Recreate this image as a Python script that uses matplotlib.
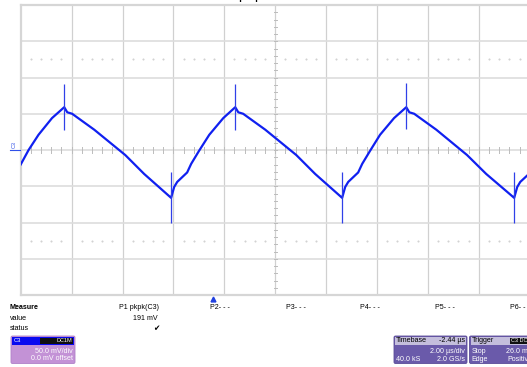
import matplotlib.pyplot as plt
from matplotlib.patches import Rectangle, FancyBboxPatch
import numpy as np

# C3 capture, 2 us/div, 50 mV/div
trace_t = [-10.0, -9.69, -9.30, -8.77, -8.29, -8.17, -7.98, -7.11, -5.89, -5.15,
           -4.09, -3.97, -3.85, -3.46, -3.30, -2.99, -2.59, -2.04, -1.57, -1.45,
           -1.26, -0.39, 0.83, 1.57, 2.63, 2.75, 2.87, 3.26, 3.42, 3.73,
           4.12, 4.67, 5.15, 5.27, 5.46, 6.33, 7.54, 8.29, 9.39, 9.51,
           9.63, 10.0]
trace_mv = [-20, 0, 21, 44, 59, 52, 50, 28, -7, -33,
            -66, -51, -44, -31, -19, -1, 21, 44, 59, 52,
            50, 28, -7, -33, -66, -51, -44, -31, -19, -1,
            21, 44, 59, 52, 50, 28, -7, -33, -66, -51,
            -44, -32]

# switching spikes at the corners
spike_t = [-8.29, -4.09, -1.57, 2.63, 5.15, 9.39]
spike_hi = [91, -30, 91, -30, 92, -30]
spike_lo = [28, -100, 28, -100, 29, -100]

trig_t = -2.44
meas_labels = ["P2- - -", "P3- - -", "P4- - -", "P5- - -", "P6- - -"]
meas_x = [210, 286, 360, 435, 510]

W, H = 527, 367
fig = plt.figure(figsize=(W / 100, H / 100), dpi=100)
plt.rcParams['font.family'] = ['Liberation Sans', 'DejaVu Sans']

ax = fig.add_axes([20.7 / W, 1 - 295 / H, 509 / W, 290 / H])
ax.set_xlim(-10, 10)
ax.set_ylim(-200, 200)
ax.set_xticks([])
ax.set_yticks([])
for s in ax.spines.values():
    s.set_color('#d6d6d6')
    s.set_linewidth(1.6)

for x in np.arange(-8, 9, 2):
    ax.axvline(x, color='#d0d0d0', lw=0.9, zorder=1)
for y in np.arange(-150, 151, 50):
    ax.axhline(y, color='#dddddd', lw=1.2, zorder=1)

# center crosshair ticks
for x in np.arange(-10, 10.01, 0.4):
    ax.plot([x, x], [-3.5, 3.5], color='#bcbcbc', lw=0.7, zorder=1)
for y in np.arange(-200, 200.1, 10):
    ax.plot([-0.06, 0.06], [y, y], color='#bcbcbc', lw=0.7, zorder=1)

# dotted level lines
dots = [x for x in np.arange(-10, 10.01, 0.4) if abs(x / 2 - round(x / 2)) > 0.05]
for y in (125, -125):
    ax.plot(dots, [y] * len(dots), ls='none', marker='s', ms=0.5,
            color='#d2d2d2', zorder=1)

ax.plot(trace_t, trace_mv, color='#1020f0', lw=1.6, zorder=3,
        solid_joinstyle='round')
ax.vlines(spike_t, spike_lo, spike_hi, color='#3040e8', lw=0.9, zorder=3)

# overlay in pixel units for the readout panels
ov = fig.add_axes([0, 0, 1, 1])
ov.set_xlim(0, W)
ov.set_ylim(H, 0)
ov.axis('off')

# channel marker and trigger arrow
ov.plot([10, 20], [150, 150], color='#3050e8', lw=0.8)
ov.text(14, 145, 'C3', rotation=90, fontsize=4, color='#3050e8',
        ha='center', va='center')
trig_px = 20.7 + (trig_t + 10) / 20 * 509
ov.plot(trig_px, 298.5, marker='^', ms=3.5, color='#2040e0')

ov.text(242, -1.5, 'p', fontsize=10, ha='center', va='baseline')
ov.text(258, -1.5, 'p', fontsize=10, ha='center', va='baseline')

fs = 5.1
ov.text(10, 307.5, 'Measure', fontsize=fs, fontweight='bold', va='center')
ov.text(10, 318.5, 'value', fontsize=fs, va='center')
ov.text(10, 329, 'status', fontsize=fs, va='center')
ov.text(119, 307.5, 'P1 pkpk(C3)', fontsize=fs, va='center')
ov.text(158, 318.5, '191 mV', fontsize=fs, va='center', ha='right')
ov.text(156, 329, '\u2714', fontsize=5.5, va='center', ha='center',
        family=['DejaVu Sans'])
for lab, x in zip(meas_labels, meas_x):
    ov.text(x, 307.5, lab, fontsize=fs, va='center')

# C3 channel box
ov.add_patch(FancyBboxPatch((11, 336), 64, 27.5, boxstyle='round,pad=0,rounding_size=1.5',
                            fc='#c392d6', ec='#b080c8', lw=0.6))
ov.add_patch(Rectangle((12, 337), 62, 7.5, fc='#0a0af0', ec='none'))
ov.add_patch(Rectangle((40, 337.8), 33, 6, fc='#101010', ec='none'))
ov.text(14, 340.8, 'C3', fontsize=4.2, color='white', va='center')
ov.text(72, 340.8, 'DC1M', fontsize=4, color='white', va='center', ha='right')
ov.text(73, 351.5, '50.0 mV/div', fontsize=fs, color='white', va='center', ha='right')
ov.text(73, 359, '0.0 mV offset', fontsize=fs, color='white', va='center', ha='right')

# timebase box
ov.add_patch(FancyBboxPatch((394, 336), 73, 27.5, boxstyle='round,pad=0,rounding_size=1.5',
                            fc='#6a5aaa', ec='#5a4a98', lw=0.6))
ov.add_patch(Rectangle((395, 337), 71, 8, fc='#c4bedc', ec='none'))
ov.text(396, 341, 'Timebase', fontsize=fs, va='center')
ov.text(465, 341, '-2.44 \u00b5s', fontsize=fs, va='center', ha='right')
ov.text(465, 351.5, '2.00 \u00b5s/div', fontsize=fs, color='white', va='center', ha='right')
ov.text(396, 359.5, '40.0 kS', fontsize=fs, color='white', va='center')
ov.text(465, 359.5, '2.0 GS/s', fontsize=fs, color='white', va='center', ha='right')

# trigger box
ov.add_patch(FancyBboxPatch((469.5, 336), 70, 27.5, boxstyle='round,pad=0,rounding_size=1.5',
                            fc='#6a5aaa', ec='#5a4a98', lw=0.6))
ov.add_patch(Rectangle((470.5, 337), 68, 8, fc='#c4bedc', ec='none'))
ov.add_patch(Rectangle((510, 337.8), 20, 6.2, fc='#101010', ec='none'))
ov.text(471.5, 341, 'Trigger', fontsize=fs, va='center')
ov.text(511, 340.9, 'C3 DC', fontsize=4, color='white', va='center')
ov.text(471.5, 351.5, 'Stop', fontsize=fs, color='white', va='center')
ov.text(506, 351.5, '26.0 mV', fontsize=fs, color='white', va='center')
ov.text(471.5, 359.5, 'Edge', fontsize=fs, color='white', va='center')
ov.text(507, 359.5, 'Positive', fontsize=fs, color='white', va='center')

fig.savefig('out.png', dpi=100)
